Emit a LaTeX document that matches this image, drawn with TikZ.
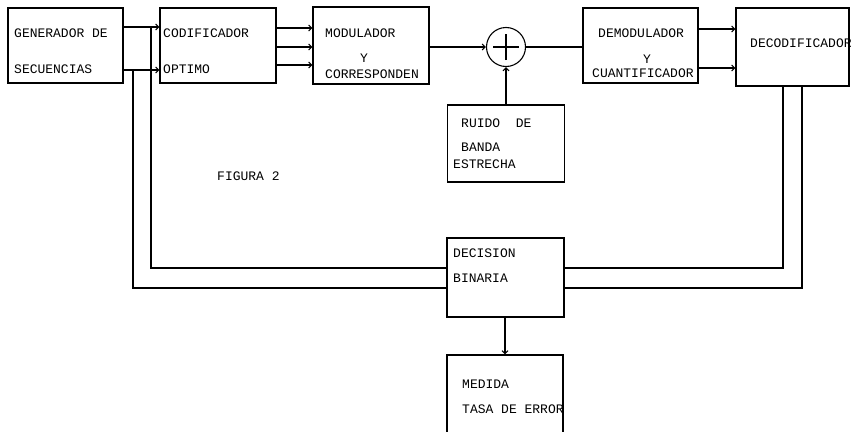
\documentclass[tikz,border=0pt]{standalone}
\usepackage{fontspec}
\newfontfamily\tw{Liberation Mono}
\usetikzlibrary{arrows.meta,calc}
\tikzset{
  blk/.style={draw, line width=1.1pt, inner sep=0pt},
  lbl/.style={anchor=base west, inner sep=0pt, font=\tw\fontsize{13}{15}\selectfont},
  conn/.style={line width=1.1pt},
  arr/.style={conn, -{Straight Barb[length=3pt,width=6pt]}}
}
\begin{document}
\begin{tikzpicture}[x=1pt,y=-1pt]
\useasboundingbox (0,0) rectangle (851,431);
\clip (0,0) rectangle (851,431);
% boxes
\node[blk, minimum width=115pt, minimum height=75pt] (gen) at (65.5,45.5) {};
\node[blk, minimum width=116pt, minimum height=75pt] (cod) at (218,45.5) {};
\node[blk, minimum width=116pt, minimum height=77pt] (mod) at (371,45.5) {};
\node[draw, line width=1.1pt, circle, minimum size=39pt, inner sep=0pt] (sum) at (506,47) {};
\node[blk, minimum width=115pt, minimum height=75pt] (demod) at (640.5,45.5) {};
\node[blk, minimum width=113pt, minimum height=78pt] (decod) at (792.5,47) {};
\node[blk, minimum width=117pt, minimum height=77pt] (ruido) at (506,143.5) {};
\node[blk, minimum width=117pt, minimum height=79pt] (dec) at (505.5,277.5) {};
\node[blk, minimum width=116pt, minimum height=100pt] (med) at (505,405) {};
% plus sign
\draw[conn] ([xshift=-13pt]sum.center) -- ([xshift=13pt]sum.center);
\draw[conn] ([yshift=-13pt]sum.center) -- ([yshift=13pt]sum.center);
% texts
\node[lbl] (t1) at (14,37.5) {GENERADOR DE};
\node[lbl] (t2) at (14,73) {SECUENCIAS};
\node[lbl] (t3) at (163,37.5) {CODIFICADOR};
\node[lbl] (t4) at (163,73) {OPTIMO};
\node[lbl] (t5) at (325,37) {MODULADOR};
\node[lbl] (t6) at (360,62) {Y};
\node[lbl] (t7) at (325,78) {CORRESPONDEN};
\node[lbl] (t8) at (598,37.5) {DEMODULADOR};
\node[lbl] (t9) at (643,63) {Y};
\node[lbl] (t10) at (592,77.5) {CUANTIFICADOR};
\node[lbl] (t11) at (750,47) {DECODIFICADOR};
\node[lbl] (t12) at (217,180) {FIGURA 2};
\node[lbl] (t13) at (461,127) {RUIDO\ \ DE};
\node[lbl] (t14) at (461,151) {BANDA};
\node[lbl] (t15) at (453,168) {ESTRECHA};
\node[lbl] (t16) at (453,257) {DECISION};
\node[lbl] (t17) at (453,282) {BINARIA};
\node[lbl] (t18) at (462,388) {MEDIDA};
\node[lbl] (t19) at (462,413) {TASA DE ERROR};
% connectors
\draw[arr] ([yshift=18.5pt]gen.east) -- ([yshift=18.5pt]cod.west);
\draw[arr] ([yshift=-24.5pt]gen.east) -- ([yshift=-24.5pt]cod.west);
\draw[arr] ([yshift=17.5pt]cod.east) -- ([yshift=17.5pt]cod.east -| mod.west);
\draw[arr] ([yshift=-1.5pt]cod.east) -- ([yshift=-1.5pt]cod.east -| mod.west);
\draw[arr] ([yshift=-19.5pt]cod.east) -- ([yshift=-19.5pt]cod.east -| mod.west);
\draw[arr] (sum.west -| mod.east) -- (sum.west);
\draw[conn] (sum.east) -- (sum.east -| demod.west);
\draw[arr] (ruido.north -| sum.south) -- (sum.south);
\draw[arr] ([yshift=16.5pt]demod.east) -- ([yshift=16.5pt]demod.east -| decod.west);
\draw[arr] ([yshift=-22.5pt]demod.east) -- ([yshift=-22.5pt]demod.east -| decod.west);
\draw[conn] ([xshift=-9.5pt]decod.south) |- ([yshift=9.5pt]dec.east);
\draw[conn] ([xshift=9.5pt]decod.south) |- ([yshift=-10.5pt]dec.east);
\coordinate (j1) at (151,27);
\coordinate (j2) at (133,70);
\draw[conn] (j1) |- ([yshift=9.5pt]dec.west);
\draw[conn] (j2) |- ([yshift=-10.5pt]dec.west);
\draw[arr] (dec.south -| med.north) -- (med.north);
\end{tikzpicture}
\end{document}
